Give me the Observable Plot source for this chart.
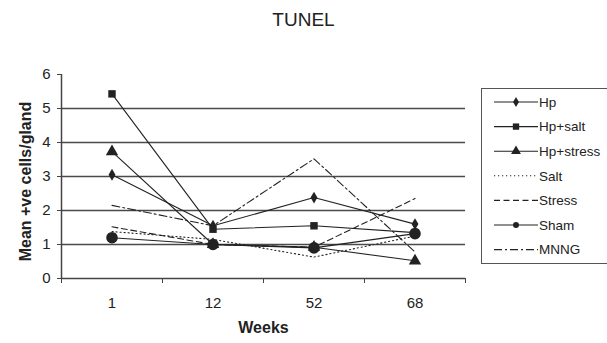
<!DOCTYPE html>
<html>
<head>
<meta charset="utf-8">
<script src="https://cdn.jsdelivr.net/npm/d3@7"></script>
<script src="https://cdn.jsdelivr.net/npm/@observablehq/plot@0.6"></script>
<style>
  html, body { margin: 0; padding: 0; background: #fff; }
  #wrap { position: relative; width: 607px; height: 343px; font-family: "Liberation Sans", Arial, sans-serif; color: #222; overflow: hidden; }
  #title { position: absolute; left: 0; top: 9px; width: 607px; text-align: center; font-size: 19px; color: #222; }
  #plot { position: absolute; left: 0; top: 40px; }
  #legend { position: absolute; left: 0; top: 0; }
</style>
</head>
<body>
<div id="wrap">
  <div id="title">TUNEL</div>
  <div id="plot"></div>
  <svg id="legend" width="607" height="343"></svg>
</div>
<script>
// Time points (weeks) on the category axis
const weeks = ["1", "12", "52", "68"];

// Mean TUNEL-positive cells per gland for each group
const hp       = [3.05, 1.55, 2.38, 1.60];
const hpSalt   = [5.43, 1.45, 1.55, 1.35];
const hpStress = [3.73, 1.00, 0.92, 0.52];
const salt     = [1.38, 1.15, 0.63, 1.25];
const stress   = [1.52, 1.00, 0.92, 2.35];
const sham     = [1.20, 1.00, 0.90, 1.32];
const mnng     = [2.15, 1.55, 3.52, 0.78];

const yTicks = [0, 1, 2, 3, 4, 5, 6];

const series = [
  {name: "Hp",        values: hp,       symbol: "diamond",  r: 3.6, dash: null},
  {name: "Hp+salt",   values: hpSalt,   symbol: "square",   r: 4.2, dash: null},
  {name: "Hp+stress", values: hpStress, symbol: "triangle", r: 4.6, dash: null},
  {name: "Salt",      values: salt,     symbol: null,       r: 0,   dash: "1.2,2.8"},
  {name: "Stress",    values: stress,   symbol: null,       r: 0,   dash: "6,3.5"},
  {name: "Sham",      values: sham,     symbol: "circle",   r: 5.8, dash: null},
  {name: "MNNG",      values: mnng,     symbol: null,       r: 0,   dash: "8,3,2,3"}
];

// Each category sits in the middle of its slot; slot edges carry the tick marks
const rows = series.flatMap(s => s.values.map((v, i) => ({group: s.name, x: i + 0.5, y: v})));

const ink = "#222";
const marks = [
  Plot.ruleY([1, 2, 3, 4, 5], {stroke: "#4a4a4a", strokeWidth: 1.6}),
  Plot.axisY(yTicks, {tickSize: 4, tickPadding: 7, fontSize: 15, label: null, stroke: "#444", color: ink}),
  Plot.axisX([0, 1, 2, 3, 4], {tickSize: 5, tickFormat: () => "", label: null, stroke: "#444"}),
  Plot.axisX([0.5, 1.5, 2.5, 3.5], {tickSize: 0, tickPadding: 19, fontSize: 15, label: null,
    tickFormat: d => weeks[Math.round(d - 0.5)], color: ink}),
  Plot.ruleX([0], {stroke: "#444", strokeWidth: 1.5}),
  Plot.ruleY([0], {stroke: "#444", strokeWidth: 1.5}),
  Plot.text(["Weeks"], {frameAnchor: "bottom", dy: 54, fontSize: 16, fontWeight: "bold", fill: ink}),
  Plot.text(["Mean +ve cells/gland"], {frameAnchor: "left", textAnchor: "middle", rotate: -90,
    dx: -36, dy: 5, fontSize: 16, fontWeight: "bold", fill: ink})
];

for (const s of series) {
  const data = rows.filter(d => d.group === s.name);
  marks.push(Plot.line(data, {x: "x", y: "y", stroke: ink, strokeWidth: 1.1,
    strokeDasharray: s.dash || undefined}));
}
for (const s of series) {
  if (!s.symbol) continue;
  const data = rows.filter(d => d.group === s.name);
  marks.push(Plot.dot(data, {x: "x", y: "y", symbol: () => s.symbol, r: s.r, fill: ink, stroke: "none"}));
}

const chart = Plot.plot({
  width: 607,
  height: 303,
  marginLeft: 61,
  marginRight: 142,
  marginTop: 34,
  marginBottom: 65,
  style: {fontFamily: "'Liberation Sans', Arial, sans-serif", background: "transparent"},
  x: {type: "linear", domain: [0, 4], axis: null},
  y: {type: "linear", domain: [0, 6], axis: null},
  symbol: {type: "identity"},
  marks
});
document.getElementById("plot").appendChild(chart);

// Legend box on the right
const lg = d3.select("#legend");
lg.append("rect").attr("x", 481.5).attr("y", 88.5).attr("width", 140).attr("height", 175)
  .attr("fill", "none").attr("stroke", "#555").attr("stroke-width", 1);
series.forEach((s, i) => {
  const y = 102 + i * 24.6;
  const g = lg.append("g");
  g.append("line").attr("x1", 494).attr("x2", 538).attr("y1", y).attr("y2", y)
    .attr("stroke", ink).attr("stroke-width", 1.1)
    .attr("stroke-dasharray", s.dash || null);
  if (s.symbol) {
    const type = {diamond: d3.symbolDiamond, square: d3.symbolSquare,
      triangle: d3.symbolTriangle, circle: d3.symbolCircle}[s.symbol];
    const size = {diamond: 30, square: 40, triangle: 42, circle: 28}[s.symbol];
    g.append("path").attr("d", d3.symbol(type, size)()).attr("transform", `translate(516,${y})`)
      .attr("fill", ink);
  }
  g.append("text").attr("x", 539).attr("y", y).attr("dy", "0.35em")
    .attr("font-size", 13.5).attr("fill", ink)
    .attr("font-family", "'Liberation Sans', Arial, sans-serif").text(s.name);
});
</script>
</body>
</html>
